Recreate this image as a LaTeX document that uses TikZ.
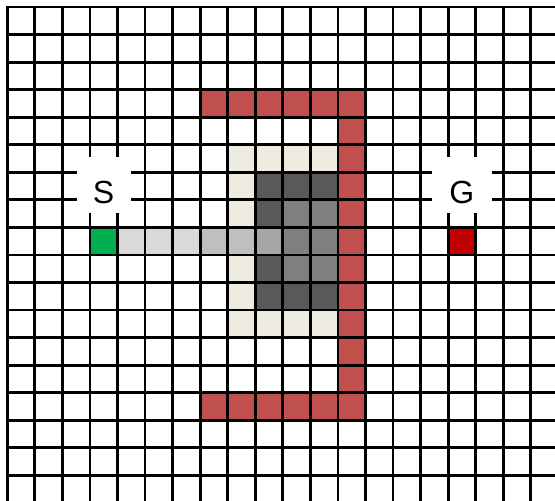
\documentclass[tikz,border=0pt]{standalone}
\usepackage{fontspec}
\setmainfont{Liberation Sans}
\definecolor{obst}{HTML}{C0504D}
\definecolor{beige}{HTML}{EEECE1}
\definecolor{dgray}{HTML}{595959}
\definecolor{mgray}{HTML}{7F7F7F}
\definecolor{lgray}{HTML}{D9D9D9}
\definecolor{sgray}{HTML}{BFBFBF}
\definecolor{agray}{HTML}{A6A6A6}
\definecolor{startg}{HTML}{00B050}
\definecolor{goalr}{HTML}{C00000}
\def\cs{27.55}
\def\ox{7.3}
\def\oy{7}
\newcommand{\gcell}[3]{\fill[#3] ({\ox+\cs*#1},{\oy+\cs*#2}) rectangle ({\ox+\cs*(#1+1)},{\oy+\cs*(#2+1)});}
\tikzset{
  gridline/.style={line width=2.8pt, black, line cap=rect},
  labelbox/.style={fill=white, inner xsep=0pt, inner ysep=0pt, text height=46pt, text depth=10pt, anchor=base, font=\fontsize{32}{36}\selectfont}
}
\begin{document}
\begin{tikzpicture}[x=1pt,y=-1pt]
\useasboundingbox (0,0) rectangle (555,501);
\clip (0,0) rectangle (555,501);
% obstacle (red)
\foreach \i in {7,...,12} {\gcell{\i}{3}{obst}\gcell{\i}{14}{obst}}
\foreach \j in {4,...,13} {\gcell{12}{\j}{obst}}
% beige
\foreach \i in {8,...,11} {\gcell{\i}{5}{beige}\gcell{\i}{11}{beige}}
\foreach \j in {6,7,9,10} {\gcell{8}{\j}{beige}}
% dark gray
\foreach \i in {9,10,11} {\gcell{\i}{6}{dgray}\gcell{\i}{10}{dgray}}
\gcell{9}{7}{dgray}\gcell{9}{9}{dgray}
% medium gray
\foreach \i in {10,11} {\foreach \j in {7,8,9} {\gcell{\i}{\j}{mgray}}}
% path row
\gcell{3}{8}{startg}
\foreach \i in {4,5,6} {\gcell{\i}{8}{lgray}}
\gcell{7}{8}{sgray}\gcell{8}{8}{sgray}
\gcell{9}{8}{agray}
\gcell{16}{8}{goalr}
% grid
\foreach \i in {0,...,19} {\draw[gridline] ({\ox+\cs*\i},\oy) -- ({\ox+\cs*\i},510);}
\foreach \j in {0,...,17} {\draw[gridline] (\ox,{\oy+\cs*\j}) -- (565,{\oy+\cs*\j});}
% labels
\node[labelbox, minimum width=54pt] (S) at (103.6,203) {S};
\node[labelbox, minimum width=60pt] (G) at (461.8,203) {G};
\end{tikzpicture}
\end{document}
